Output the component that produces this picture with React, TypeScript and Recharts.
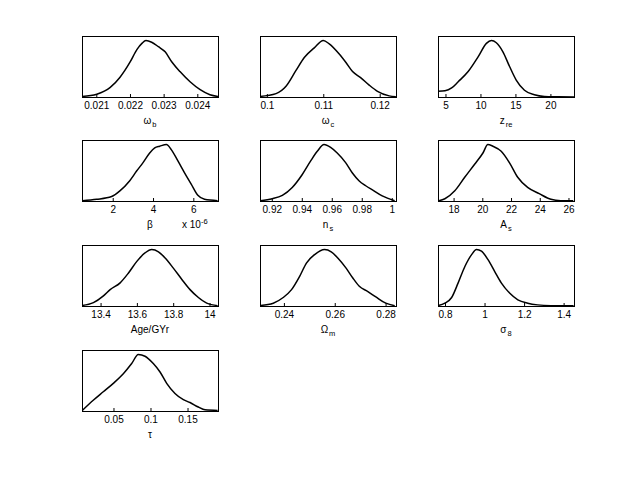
import React from "react";
import { LineChart, Line, XAxis, YAxis } from "recharts";

// Marginalised posteriors, each normalised so the peak is 1.

const wbX = [0.02057, 0.021, 0.0214, 0.02169, 0.02199, 0.02219, 0.02234, 0.02246, 0.02263, 0.02283, 0.02303, 0.02323, 0.02347, 0.02377, 0.02407, 0.02436, 0.0246];
const wbY = [0.01, 0.05, 0.17, 0.35, 0.62, 0.84, 0.95, 1.0, 0.97, 0.89, 0.8, 0.62, 0.45, 0.27, 0.13, 0.04, 0.01];
const wbTicks = [0.021, 0.022, 0.023, 0.024];

const wcX = [0.09871, 0.10154, 0.10331, 0.10508, 0.10655, 0.10832, 0.10991, 0.11097, 0.11274, 0.11393, 0.1151, 0.11658, 0.11805, 0.11952, 0.12159, 0.12278];
const wcY = [0.01, 0.06, 0.19, 0.47, 0.7, 0.87, 1.0, 0.94, 0.76, 0.61, 0.45, 0.34, 0.21, 0.1, 0.02, 0.005];
const wcTicks = [0.1, 0.11, 0.12];

const zreX = [3.9, 4.86, 5.81, 6.75, 8.17, 9.59, 10.78, 11.49, 12.2, 13.14, 14.09, 15.04, 16.22, 17.64, 19.06, 20.95, 23.3];
const zreY = [0.1, 0.11, 0.16, 0.27, 0.45, 0.71, 0.95, 1.0, 0.96, 0.8, 0.54, 0.3, 0.12, 0.04, 0.01, 0.004, 0.0];
const zreTicks = [5, 10, 15, 20];

// beta in units of 1e-6
const betaX = [0.47, 1.18, 1.92, 2.33, 2.82, 3.16, 3.48, 3.81, 4.06, 4.31, 4.64, 4.88, 5.21, 5.54, 5.87, 6.2, 6.53, 7.18];
const betaY = [0.006, 0.03, 0.08, 0.18, 0.36, 0.53, 0.68, 0.85, 0.94, 0.97, 1.0, 0.91, 0.71, 0.5, 0.3, 0.1, 0.03, 0.006];
const betaTicks = [2, 4, 6];

const nsX = [0.912, 0.92, 0.9267, 0.9333, 0.94, 0.9456, 0.95, 0.9545, 0.9589, 0.9633, 0.9689, 0.9733, 0.9778, 0.9823, 0.9878, 0.9933, 1.0016];
const nsY = [0.006, 0.04, 0.1, 0.24, 0.47, 0.71, 0.88, 1.0, 0.95, 0.85, 0.68, 0.5, 0.36, 0.27, 0.18, 0.09, 0.006];
const nsTicks = [0.92, 0.94, 0.96, 0.98, 1];

const asX = [16.94, 17.36, 18.05, 18.74, 19.43, 20.01, 20.35, 20.7, 21.28, 21.85, 22.43, 23.12, 23.93, 24.74, 25.43, 26.3];
const asY = [0.006, 0.04, 0.18, 0.42, 0.65, 0.85, 1.0, 0.97, 0.88, 0.68, 0.42, 0.24, 0.13, 0.03, 0.006, 0.004];
const asTicks = [18, 20, 22, 24, 26];

const ageX = [13.297, 13.358, 13.413, 13.45, 13.505, 13.55, 13.597, 13.642, 13.679, 13.716, 13.753, 13.798, 13.845, 13.89, 13.936, 13.982, 14.042];
const ageY = [0.01, 0.06, 0.18, 0.29, 0.41, 0.58, 0.79, 0.94, 1.0, 0.96, 0.85, 0.67, 0.47, 0.29, 0.15, 0.05, 0.006];
const ageTicks = [13.4, 13.6, 13.8, 14];

const omX = [0.23071, 0.23563, 0.23953, 0.24281, 0.24605, 0.24866, 0.2519, 0.2558, 0.25842, 0.261, 0.26427, 0.26685, 0.26946, 0.2727, 0.27598, 0.27988, 0.2834];
const omY = [0.01, 0.05, 0.15, 0.29, 0.53, 0.76, 0.91, 1.0, 0.96, 0.85, 0.67, 0.5, 0.35, 0.26, 0.16, 0.05, 0.006];
const omTicks = [0.24, 0.26, 0.28];

const s8X = [0.764, 0.797, 0.831, 0.864, 0.898, 0.932, 0.957, 0.982, 1.015, 1.049, 1.082, 1.124, 1.166, 1.216, 1.266, 1.333, 1.448];
const s8Y = [0.01, 0.05, 0.15, 0.41, 0.7, 0.91, 1.0, 0.97, 0.82, 0.61, 0.41, 0.23, 0.11, 0.05, 0.02, 0.006, 0.003];
const s8Ticks = [0.8, 1, 1.2, 1.4];

const tauX = [0.0072, 0.022, 0.0355, 0.0491, 0.0626, 0.0739, 0.0828, 0.0919, 0.1031, 0.1122, 0.1212, 0.1324, 0.1437, 0.1527, 0.1639, 0.173, 0.19];
const tauY = [0.01, 0.19, 0.34, 0.49, 0.66, 0.84, 1.0, 0.97, 0.84, 0.69, 0.49, 0.31, 0.2, 0.15, 0.07, 0.02, 0.01];
const tauTicks = [0.05, 0.1, 0.15];

interface Panel {
  name: string;
  sub?: string;
  xs: number[];
  ys: number[];
  domain: [number, number];
  ticks: number[];
  exponent?: string;
}

const panels: Panel[] = [
  { name: "ω", sub: "b", xs: wbX, ys: wbY, domain: [0.02056, 0.0246], ticks: wbTicks },
  { name: "ω", sub: "c", xs: wcX, ys: wcY, domain: [0.0987, 0.1228], ticks: wcTicks },
  { name: "z", sub: "re", xs: zreX, ys: zreY, domain: [3.86, 23.3], ticks: zreTicks },
  { name: "β", xs: betaX, ys: betaY, domain: [0.45, 7.2], ticks: betaTicks, exponent: "-6" },
  { name: "n", sub: "s", xs: nsX, ys: nsY, domain: [0.9118, 1.0025], ticks: nsTicks },
  { name: "A", sub: "s", xs: asX, ys: asY, domain: [16.88, 26.35], ticks: asTicks },
  { name: "Age/GYr", xs: ageX, ys: ageY, domain: [13.295, 14.044], ticks: ageTicks },
  { name: "Ω", sub: "m", xs: omX, ys: omY, domain: [0.2304, 0.2839], ticks: omTicks },
  { name: "σ", sub: "8", xs: s8X, ys: s8Y, domain: [0.762, 1.45], ticks: s8Ticks },
  { name: "τ", xs: tauX, ys: tauY, domain: [0.0068, 0.1905], ticks: tauTicks },
];

const COLS = [82, 260, 438];
const ROWS = [36, 140, 245, 350];
const BOX_W = 136;
const BOX_H = 61;
const PAD_X = 20;
const PAD_T = 4;
const AXIS_H = 22;
const Y_MAX = 1.08;
const FONT = "'Liberation Sans', Arial, Helvetica, sans-serif";

function PosteriorPanel({ panel, left, top }: { panel: Panel; left: number; top: number }) {
  const data = panel.xs.map((x, i) => ({ x, y: panel.ys[i] }));
  return (
    <div style={{ position: "absolute", left: left - PAD_X, top: top - PAD_T }}>
      <LineChart
        width={BOX_W + 2 * PAD_X}
        height={PAD_T + BOX_H + AXIS_H}
        data={data}
        margin={{ top: PAD_T - 1, right: PAD_X, left: PAD_X, bottom: 0 }}
      >
        <XAxis
          xAxisId="t"
          orientation="top"
          dataKey="x"
          type="number"
          domain={panel.domain}
          ticks={panel.ticks}
          allowDataOverflow
          interval={0}
          height={1}
          tickSize={-3}
          tick={false}
          axisLine={false}
          stroke="#000"
        />
        <XAxis
          xAxisId="b"
          dataKey="x"
          type="number"
          domain={panel.domain}
          ticks={panel.ticks}
          allowDataOverflow
          interval={0}
          height={AXIS_H}
          tickSize={-3}
          tickMargin={8}
          axisLine={false}
          stroke="#000"
          tick={{ fill: "#000", fontSize: 10 }}
        />
        <YAxis yAxisId="l" type="number" domain={[0, Y_MAX]} hide />
        <Line
          xAxisId="b"
          yAxisId="l"
          dataKey="y"
          type="monotone"
          stroke="#000"
          strokeWidth={1.5}
          dot={false}
          isAnimationActive={false}
        />
      </LineChart>
      <div
        style={{
          position: "absolute",
          left: PAD_X - 0.5,
          top: PAD_T - 0.5,
          width: BOX_W + 1,
          height: BOX_H + 1,
          border: "1px solid #000",
          boxSizing: "border-box",
          pointerEvents: "none",
        }}
      />
      <div
        style={{
          position: "absolute",
          left: PAD_X,
          width: BOX_W,
          top: PAD_T + BOX_H + 18,
          textAlign: "center",
          fontSize: 10,
          lineHeight: "12px",
        }}
      >
        {panel.name}
        {panel.sub && (
          <span style={{ fontSize: 7.5, position: "relative", top: 3, marginLeft: 1 }}>{panel.sub}</span>
        )}
      </div>
      {panel.exponent && (
        <div style={{ position: "absolute", left: PAD_X + 100, top: PAD_T + BOX_H + 18, fontSize: 10, lineHeight: "12px" }}>
          x 10
          <span style={{ fontSize: 7.5, position: "relative", top: -4 }}>{panel.exponent}</span>
        </div>
      )}
    </div>
  );
}

export default function App() {
  return (
    <div
      style={{
        position: "absolute",
        left: 0,
        top: 0,
        width: 635,
        height: 477,
        background: "#fff",
        fontFamily: FONT,
        color: "#000",
      }}
    >
      {panels.map((p, i) => (
        <PosteriorPanel key={i} panel={p} left={COLS[i % 3]} top={ROWS[Math.floor(i / 3)]} />
      ))}
    </div>
  );
}
